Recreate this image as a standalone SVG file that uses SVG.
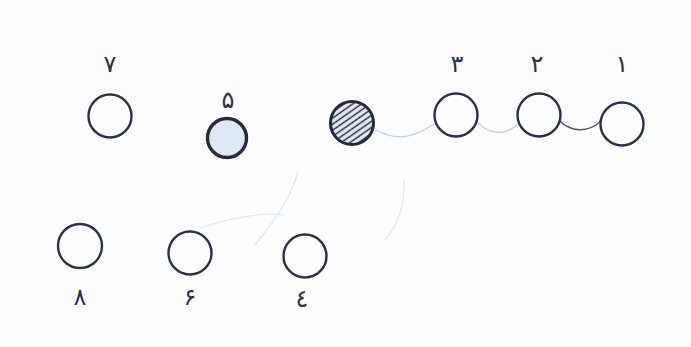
<svg xmlns="http://www.w3.org/2000/svg" width="691" height="347" viewBox="0 0 691 347">
<style>
.node{fill:#fdfeff;stroke:#2b3049;stroke-width:2.4}
.bold{fill:#dfe9f3;stroke:#262a40;stroke-width:3.4}
.lbl{font-family:"DejaVu Sans","Noto Sans",sans-serif;font-size:24px;fill:#2b3049;text-anchor:middle}
.wire{fill:none;stroke:#c3cfde;stroke-width:1.3}
.wire2{fill:none;stroke:#4a5270;stroke-width:1.3}
.pencil{fill:none;stroke:#dfe8f1;stroke-width:1.2}
</style>
<defs>
<pattern id="hatch" width="5" height="5" patternUnits="userSpaceOnUse" patternTransform="rotate(-35)">
<rect width="5" height="5" fill="#e8eef5"/>
<line x1="0" y1="2.5" x2="5" y2="2.5" stroke="#262a40" stroke-width="1.5"/>
</pattern>
</defs>
<rect width="691" height="347" fill="#fbfdff"/>
<g id="connectors">
<path class="pencil" d="M298,172 C290,200 275,220 255,245"/>
<path class="pencil" d="M200,228 C230,218 260,212 285,215"/>
<path class="pencil" d="M404,180 C405,205 398,225 385,240"/>
<path class="wire" d="M376,130 C395,140 410,140 434,124"/>
<path class="wire" d="M477,122 C490,135 505,136 518,124"/>
<path class="wire2" d="M559,120 C570,132 588,134 602,120"/>
</g>
<g id="n7"><circle class="node" cx="110" cy="116" r="21.5"/><text class="lbl" x="110" y="72">۷</text></g>
<g id="n5"><circle class="bold" cx="227" cy="138" r="19.5"/><text class="lbl" x="228" y="108">۵</text></g>
<g id="nh"><circle cx="352" cy="123" r="21.5" fill="url(#hatch)" stroke="#262a40" stroke-width="3"/></g>
<g id="n3"><circle class="node" cx="456" cy="115" r="21.5"/><text class="lbl" x="457" y="72">۳</text></g>
<g id="n2"><circle class="node" cx="539" cy="115" r="21.5"/><text class="lbl" x="537" y="72">۲</text></g>
<g id="n1"><circle class="node" cx="622" cy="124" r="21.5"/><text class="lbl" x="622" y="72">۱</text></g>
<g id="n8"><circle class="node" cx="80" cy="246" r="22"/><text class="lbl" x="80" y="305">۸</text></g>
<g id="n6"><circle class="node" cx="190" cy="253" r="21.5"/><text class="lbl" x="190" y="305">۶</text></g>
<g id="n4"><circle class="node" cx="305" cy="256" r="21.5"/><text class="lbl" x="302" y="307">٤</text></g>
</svg>
